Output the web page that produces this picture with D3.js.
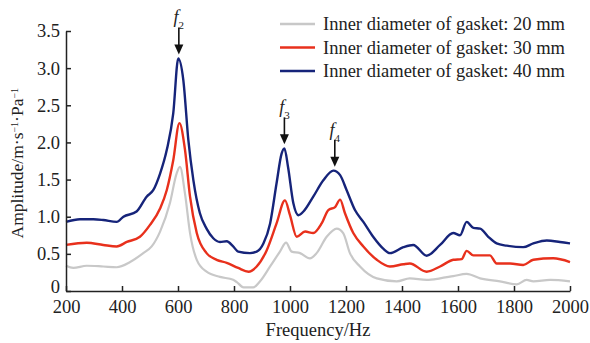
<!DOCTYPE html>
<html>
<head>
<meta charset="utf-8">
<script src="https://cdn.jsdelivr.net/npm/d3@7"></script>
<style>
body { margin: 0; background: #fff; }
svg text { font-family: "Liberation Serif", "Times New Roman", Times, "DejaVu Serif", serif; fill: #222; }
</style>
</head>
<body>
<div id="vis"></div>
<script>
var width = 590, height = 343;
var margin = {top: 31, right: 20, bottom: 52, left: 66};

// 20 mm (grey)
var freq20 = [200, 226, 274, 333, 381, 429, 476, 506, 536, 571, 595, 607, 625, 643, 667, 702, 750, 797, 810, 834, 869, 893, 929, 964, 986, 1006, 1036, 1071, 1095, 1131, 1167, 1190, 1214, 1250, 1310, 1381, 1428, 1488, 1536, 1583, 1631, 1679, 1750, 1810, 1845, 1869, 1929, 2000];
var amp20  = [0.34, 0.31, 0.34, 0.33, 0.32, 0.39, 0.51, 0.60, 0.80, 1.18, 1.58, 1.67, 1.31, 0.78, 0.42, 0.26, 0.19, 0.15, 0.12, 0.05, 0.05, 0.13, 0.33, 0.53, 0.65, 0.53, 0.51, 0.44, 0.51, 0.73, 0.84, 0.78, 0.51, 0.33, 0.17, 0.13, 0.17, 0.15, 0.17, 0.20, 0.23, 0.17, 0.13, 0.09, 0.15, 0.13, 0.15, 0.13];

// 30 mm (red)
var freq30 = [200, 274, 333, 381, 417, 464, 500, 536, 560, 583, 605, 625, 643, 667, 702, 738, 774, 815, 852, 881, 917, 952, 982, 1000, 1024, 1054, 1083, 1113, 1137, 1161, 1179, 1196, 1226, 1262, 1310, 1357, 1405, 1428, 1488, 1536, 1583, 1613, 1631, 1655, 1714, 1738, 1786, 1833, 1869, 1940, 2000];
var amp30  = [0.62, 0.65, 0.62, 0.60, 0.66, 0.73, 0.89, 1.11, 1.36, 1.76, 2.26, 1.90, 1.27, 0.78, 0.51, 0.42, 0.38, 0.31, 0.26, 0.33, 0.55, 0.91, 1.22, 1.02, 0.73, 0.80, 0.78, 0.91, 1.09, 1.13, 1.23, 1.05, 0.78, 0.60, 0.42, 0.33, 0.36, 0.37, 0.26, 0.33, 0.42, 0.43, 0.54, 0.48, 0.48, 0.37, 0.37, 0.35, 0.42, 0.44, 0.39];

// 40 mm (blue)
var freq40 = [200, 250, 298, 333, 381, 405, 452, 488, 512, 536, 560, 583, 601, 619, 637, 655, 678, 702, 726, 750, 774, 797, 815, 857, 881, 905, 929, 952, 970, 980, 993, 1012, 1030, 1048, 1083, 1119, 1155, 1179, 1202, 1232, 1262, 1297, 1333, 1357, 1405, 1440, 1488, 1536, 1583, 1607, 1631, 1655, 1679, 1708, 1738, 1774, 1833, 1869, 1917, 1964, 2000];
var amp40  = [0.93, 0.965, 0.965, 0.955, 0.93, 1.0, 1.07, 1.27, 1.36, 1.58, 1.90, 2.39, 3.13, 2.84, 2.03, 1.49, 1.05, 0.84, 0.71, 0.66, 0.67, 0.60, 0.53, 0.51, 0.53, 0.64, 0.91, 1.45, 1.85, 1.92, 1.67, 1.18, 1.02, 1.07, 1.27, 1.49, 1.62, 1.56, 1.36, 1.09, 0.93, 0.73, 0.57, 0.51, 0.59, 0.62, 0.475, 0.62, 0.78, 0.75, 0.93, 0.85, 0.84, 0.73, 0.64, 0.61, 0.59, 0.64, 0.68, 0.66, 0.64];

var legendLabels = ["Inner diameter of gasket: 20 mm", "Inner diameter of gasket: 30 mm", "Inner diameter of gasket: 40 mm"];
var colors = ["#c8c8c8", "#e8301c", "#16247a"];

var xTicks = [200, 400, 600, 800, 1000, 1200, 1400, 1600, 1800, 2000];
var yTicks = [0, 0.5, 1.0, 1.5, 2.0, 2.5, 3.0, 3.5];

var peakFreq = [603, 980, 1160];
var peakAmp = [3.13, 1.92, 1.62];
var peakSub = ["2", "3", "4"];

var x = d3.scaleLinear().domain([200, 2000]).range([margin.left, width - margin.right]);
var y = d3.scaleLinear().domain([0, 3.5]).range([height - margin.bottom, margin.top]);

var svg = d3.select("#vis").append("svg")
	.attr("width", width)
	.attr("height", height);

var series = [
	{f: freq20, a: amp20, c: colors[0], w: 2.2},
	{f: freq30, a: amp30, c: colors[1], w: 2.4},
	{f: freq40, a: amp40, c: colors[2], w: 2.4}
];

var line = d3.line()
	.x(function(d){ return x(d[0]); })
	.y(function(d){ return y(d[1]); })
	.curve(d3.curveMonotoneX);

series.forEach(function(s){
	svg.append("path")
		.datum(d3.zip(s.f, s.a))
		.attr("fill", "none")
		.attr("stroke", s.c)
		.attr("stroke-width", s.w)
		.attr("stroke-linejoin", "round")
		.attr("d", line);
});

// x axis
var gx = svg.append("g")
	.attr("transform", "translate(0," + y(0) + ")")
	.call(d3.axisBottom(x).tickValues(xTicks).tickSize(-5).tickPadding(9).tickSizeOuter(0)
		.tickFormat(d3.format("d")));
// y axis
var gy = svg.append("g")
	.attr("transform", "translate(" + x(200) + ",0)")
	.call(d3.axisLeft(y).tickValues(yTicks).tickSize(-5).tickPadding(6).tickSizeOuter(0)
		.tickFormat(function(d){ return d === 0 ? "0" : d3.format(".1f")(d); }));

[gx, gy].forEach(function(g){
	g.attr("font-family", null).attr("font-size", null);
	g.select(".domain").attr("stroke", "#222").attr("stroke-width", 1.5);
	g.selectAll(".tick line").attr("stroke", "#222").attr("stroke-width", 1.5);
	g.selectAll(".tick text").attr("font-size", 18.5).attr("fill", "#222");
});
gy.selectAll(".tick text").filter(function(d){ return d === 0; }).attr("dy", "0.1em");

// axis titles
svg.append("text")
	.attr("x", (x(200) + x(2000)) / 2)
	.attr("y", 336)
	.attr("text-anchor", "middle")
	.attr("font-size", 18.5)
	.text("Frequency/Hz");

var yl = svg.append("text")
	.attr("transform", "translate(23," + y(1.72) + ") rotate(-90)")
	.attr("text-anchor", "middle")
	.attr("font-size", 17.5);
yl.append("tspan").text("Amplitude/m·s");
yl.append("tspan").attr("baseline-shift", "super").attr("font-size", 10).text("−1");
yl.append("tspan").text("·Pa");
yl.append("tspan").attr("baseline-shift", "super").attr("font-size", 10).text("−1");

// legend
var leg = svg.append("g");
legendLabels.forEach(function(l, i){
	var ly = 24 + i * 23.5;
	leg.append("line")
		.attr("x1", 280).attr("x2", 315)
		.attr("y1", ly).attr("y2", ly)
		.attr("stroke", colors[i])
		.attr("stroke-width", 2.4);
	leg.append("text")
		.attr("x", 323).attr("y", ly + 6)
		.attr("font-size", 18.5)
		.text(l);
});

// peak markers
peakFreq.forEach(function(f, i){
	var px = x(f);
	var tip = y(peakAmp[i]) - 4;
	svg.append("line")
		.attr("x1", px).attr("x2", px)
		.attr("y1", tip - 27).attr("y2", tip - 8)
		.attr("stroke", "#111").attr("stroke-width", 1.6);
	svg.append("path")
		.attr("d", "M" + (px - 4.5) + "," + (tip - 10) + "L" + (px + 4.5) + "," + (tip - 10) + "L" + px + "," + tip + "Z")
		.attr("fill", "#111");
	var t = svg.append("text")
		.attr("x", px).attr("y", tip - 31)
		.attr("text-anchor", "middle")
		.attr("font-size", 18);
	t.append("tspan").attr("font-style", "italic").text("f");
	t.append("tspan").attr("baseline-shift", "sub").attr("font-size", 11).text(peakSub[i]);
});
</script>
</body>
</html>
